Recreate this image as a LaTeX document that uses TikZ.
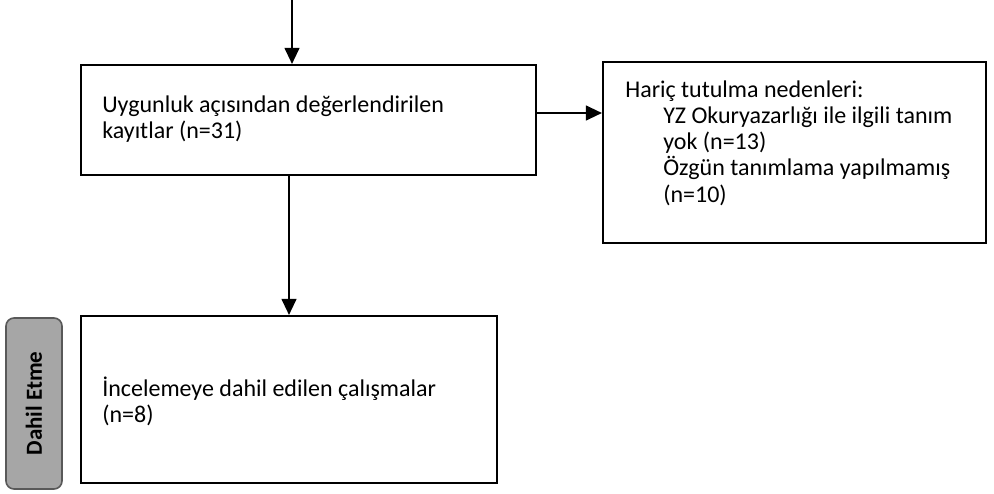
\documentclass[tikz,border=0pt]{standalone}
\usepackage{fontspec}
\setmainfont{Carlito}
\usetikzlibrary{arrows.meta,calc}

\tikzset{
  framebox/.style={shape=rectangle, draw, line width=1.1pt, inner sep=0pt},
  boxtext/.style={anchor=west, align=left, inner sep=0pt, font=\fontsize{12}{13.1}\selectfont},
  flowarrow/.style={line width=0.6pt, -{Triangle[length=8pt,width=7.5pt]}},
  sidetag/.style={shape=rectangle, rounded corners=4pt, draw=black!65, line width=0.8pt, fill=black!35, inner sep=0pt}
}

\begin{document}
\begin{tikzpicture}
  \useasboundingbox (0,0) rectangle (497pt,-246.5pt);
  % Boxes:
  \node[framebox, minimum width=227.5pt, minimum height=55pt] (eval) at (154.25pt,-60pt){};
  \node[boxtext] (evaltxt) at ([xshift=11pt, yshift=0.5pt]eval.west){Uygunluk açısından değerlendirilen\\kayıtlar (n=31)};
  \node[framebox, minimum width=191.5pt, minimum height=90.5pt] (excl) at (397.25pt,-76.25pt){};
  \node[boxtext] (excltxt) at ([xshift=11.5pt, yshift=4.75pt]excl.west){Hariç tutulma nedenleri:\\
    \hspace*{19pt}YZ Okuryazarlığı ile ilgili tanım\\
    \hspace*{19pt}yok (n=13)\\
    \hspace*{19pt}Özgün tanımlama yapılmamış\\
    \hspace*{19pt}(n=10)};
  \node[framebox, minimum width=208pt, minimum height=83.5pt] (incl) at (144.5pt,-199.75pt){};
  \node[boxtext] (incltxt) at ([xshift=11pt, yshift=-1pt]incl.west){İncelemeye dahil edilen çalışmalar\\(n=8)};
  \node[sidetag, minimum width=28pt, minimum height=85.5pt] (tag) at (17pt,-201.75pt){};
  \node[rotate=90, font=\fontsize{11.5}{13}\selectfont\bfseries] (tagtxt) at (tag.center){Dahil Etme};
  % Wires:
  \coordinate (top) at (146pt,0);
  \draw[flowarrow] (top) -- (top |- eval.north);
  \draw[flowarrow] (incl.north |- eval.south) -- (incl.north);
  \draw[flowarrow] ([yshift=3.5pt]eval.east) -- ([yshift=3.5pt]eval.east -| excl.west);
\end{tikzpicture}
\end{document}
